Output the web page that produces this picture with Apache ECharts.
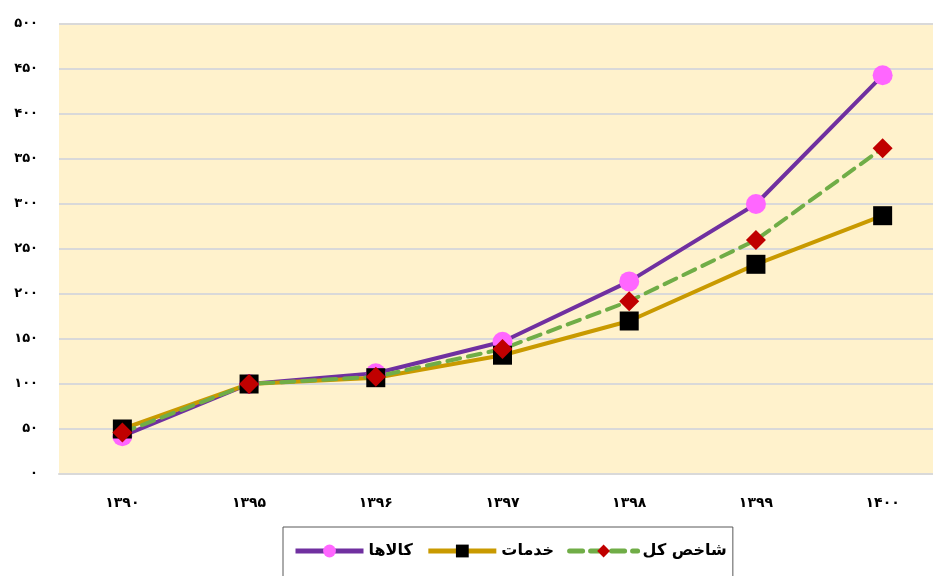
<!DOCTYPE html>
<html><head><meta charset="utf-8">
<script src="https://cdn.jsdelivr.net/npm/echarts@6/dist/echarts.min.js"></script>
<style>html,body{margin:0;padding:0;background:#fff;overflow:hidden;width:933px;height:576px}#c{width:946px;height:576px}</style>
</head><body><div id="c"></div>
<script>
const categories = ['۱۳۹۰','۱۳۹۵','۱۳۹۶','۱۳۹۷','۱۳۹۸','۱۳۹۹','۱۴۰۰'];
const goods = [42, 100, 112, 147, 214, 300, 443];
const services = [50, 100, 107, 132, 170, 233, 287];
const total = [46, 100, 108, 139, 192, 260, 362];
const seriesNames = ['کالاها', 'خدمات', 'شاخص کل'];

function fa(n){return String(n).replace(/\d/g,d=>'۰۱۲۳۴۵۶۷۸۹'[d]);}
const FONT = 'DejaVu Sans';
const chart = echarts.init(document.getElementById('c'));
chart.setOption({
  animation:false,
  backgroundColor:'#ffffff',
  textStyle:{fontFamily:FONT},
  grid:{left:59,right:0,top:24,bottom:102,show:true,backgroundColor:'#FFF2CC',borderWidth:0},
  xAxis:{type:'category',data:categories,boundaryGap:true,
    axisLine:{show:true,lineStyle:{color:'#D9D9D9',width:2}},
    axisTick:{show:false},
    axisLabel:{margin:22,color:'#000',fontWeight:'bold',fontSize:14,fontFamily:FONT},
    splitLine:{show:false}},
  yAxis:{type:'value',min:0,max:500,interval:50,
    axisLine:{show:false},axisTick:{show:false},
    axisLabel:{margin:21,color:'#000',fontWeight:'bold',fontSize:13,fontFamily:FONT,formatter:v=>fa(v)},
    splitLine:{show:true,lineStyle:{color:'#D9D9D9',width:2}}},
  legend:{left:283,top:527,orient:'horizontal',
    data:seriesNames,
    borderColor:'#595959',borderWidth:1,padding:[16,6,20,10],
    itemWidth:68,itemHeight:16,itemGap:13,
    lineStyle:{width:5},
    textStyle:{color:'#000',fontWeight:'bold',fontSize:16,fontFamily:FONT}},
  series:[
    {name:seriesNames[0],type:'line',data:goods,
     lineStyle:{color:'#7030A0',width:4},
     itemStyle:{color:'#FF66FF'},symbol:'circle',symbolSize:20},
    {name:seriesNames[1],type:'line',data:services,
     lineStyle:{color:'#C99A00',width:4},
     itemStyle:{color:'#000000'},symbol:'rect',symbolSize:19},
    {name:seriesNames[2],type:'line',data:total,
     lineStyle:{color:'#70AD47',width:4,type:[13,8],cap:'round'},
     itemStyle:{color:'#C00000'},symbol:'diamond',symbolSize:[20,20]}
  ]
});
</script></body></html>
